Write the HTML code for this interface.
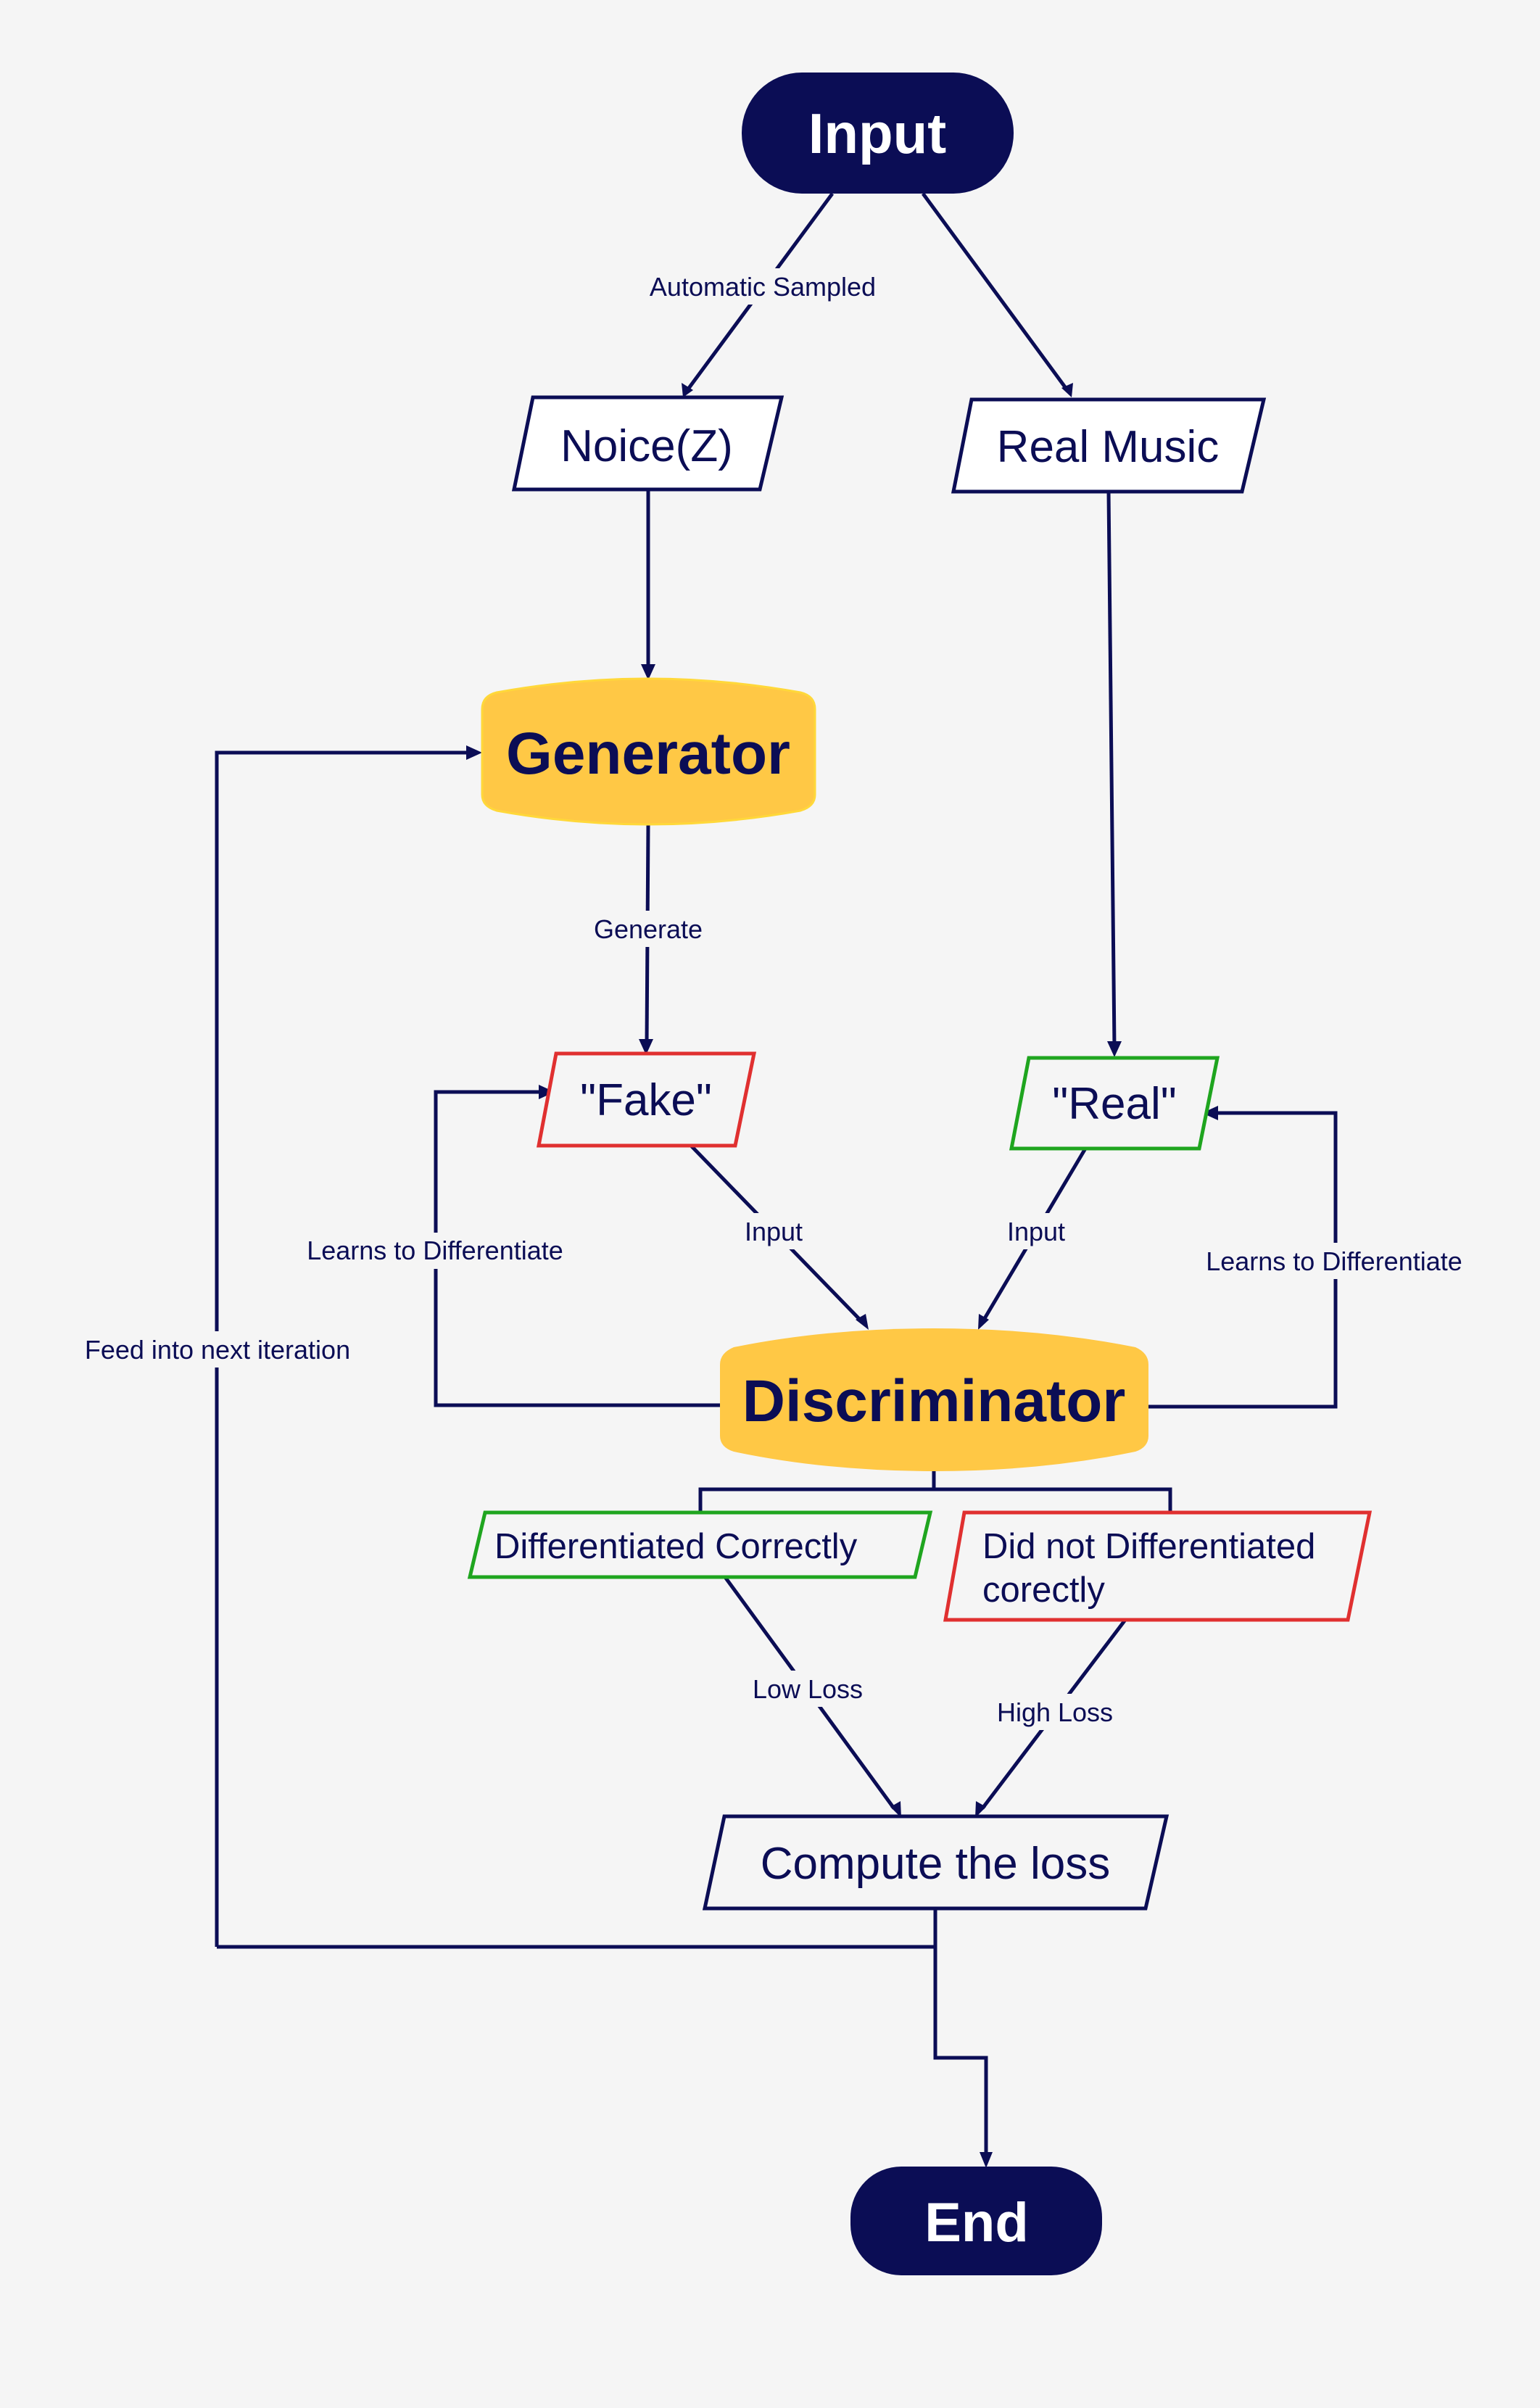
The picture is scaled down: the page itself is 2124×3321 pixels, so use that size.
<!DOCTYPE html>
<html><head><meta charset="utf-8"><style>
html,body{margin:0;padding:0;background:#f5f5f5}
svg{display:block}
text{font-family:"Liberation Sans",sans-serif;fill:#0b0d55}
.l{font-size:36px}
</style></head><body>
<svg width="2124" height="3321" viewBox="0 0 2124 3321" xmlns="http://www.w3.org/2000/svg">
<defs>
<marker id="a" viewBox="0 0 10 10" refX="9" refY="5" markerWidth="6" markerHeight="6" orient="auto-start-reverse" markerUnits="userSpaceOnUse" style="overflow:visible">
</marker>
</defs>
<rect width="2124" height="3321" fill="#f5f5f5"/>
<g stroke="#0b0d55" stroke-width="5" fill="none">
<!-- Input to Noice -->
<line x1="1148" y1="267" x2="948" y2="538"/>
<line x1="1273" y1="267" x2="1472" y2="538"/>
<line x1="894" y1="675" x2="894" y2="922"/>
<polyline points="299,2685 299,1038 652,1038"/>
<line x1="894" y1="1137" x2="892" y2="1440"/>
<line x1="1529" y1="678" x2="1537" y2="1444"/>
<polyline points="995,1938 601,1938 601,1506 750,1506"/>
<polyline points="1584,1940 1842,1940 1842,1535 1672,1535"/>
<line x1="953" y1="1580" x2="1188" y2="1822"/>
<line x1="1497" y1="1584" x2="1357" y2="1820"/>
<polyline points="1288,2029 1288,2054"/>
<polyline points="966,2086 966,2054 1614,2054 1614,2086"/>
<line x1="1000" y1="2175" x2="1233" y2="2494"/>
<line x1="1552" y1="2234" x2="1355" y2="2494"/>
<polyline points="1290,2632 1290,2685 299,2685"/>
<polyline points="1290,2685 1290,2838 1360,2838 1360,2975"/>
</g>
<g fill="#0b0d55">
<polygon points="942,548 940,528 956,538"/>
<polygon points="1478,548 1464,535 1480,528"/>
<polygon points="894,938 884,916 904,916"/>
<polygon points="665,1038 643,1028 643,1048"/>
<polygon points="891,1455 881,1433 901,1433"/>
<polygon points="1537,1458 1527,1436 1547,1436"/>
<polygon points="765,1506 743,1496 743,1516"/>
<polygon points="1658,1535 1680,1525 1680,1545"/>
<polygon points="1198,1834 1180,1820 1194,1812"/>
<polygon points="1349,1834 1350,1812 1364,1820"/>
<polygon points="1243,2507 1228,2492 1242,2484"/>
<polygon points="1345,2507 1346,2484 1360,2492"/>
<polygon points="1360,2990 1351,2968 1369,2968"/>
</g>
<!-- labels bg -->
<g fill="#f5f5f5">
<rect x="880" y="370" width="345" height="50"/>
<rect x="810" y="1256" width="170" height="50"/>
<rect x="1010" y="1673" width="115" height="50"/>
<rect x="1372" y="1673" width="115" height="50"/>
<rect x="405" y="1700" width="390" height="50"/>
<rect x="1645" y="1714" width="390" height="50"/>
<rect x="95" y="1836" width="410" height="50"/>
<rect x="1030" y="2304" width="170" height="50"/>
<rect x="1365" y="2336" width="180" height="50"/>
</g>
<g class="l" text-anchor="middle">
<text x="1052" y="408">Automatic Sampled</text>
<text x="894" y="1294">Generate</text>
<text x="1067" y="1711">Input</text>
<text x="1429" y="1711">Input</text>
<text x="600" y="1737">Learns to Differentiate</text>
<text x="1840" y="1752">Learns to Differentiate</text>
<text x="300" y="1874">Feed into next iteration</text>
<text x="1114" y="2342">Low Loss</text>
<text x="1455" y="2374">High Loss</text>
</g>
<!-- nodes -->
<rect x="1023" y="100" width="375" height="167" rx="83" fill="#0b0d55"/>
<text x="1210" y="211" text-anchor="middle" font-size="78" font-weight="bold" style="fill:#fff">Input</text>
<g fill="#fff" stroke-width="5">
<polygon points="735,548 1078,548 1048,675 709,675" stroke="#0b0d55"/>
<polygon points="1340,551 1743,551 1713,678 1315,678" stroke="#0b0d55"/>
<polygon points="767,1453 1040,1453 1014,1580 743,1580" stroke="#e03030" fill="#f5f5f5"/>
<polygon points="1419,1459 1679,1459 1654,1584 1395,1584" stroke="#1fa51f" fill="#f5f5f5"/>
<polygon points="669,2086 1283,2086 1262,2175 648,2175" stroke="#1fa51f" fill="#f5f5f5"/>
<polygon points="1330,2086 1889,2086 1859,2234 1304,2234" stroke="#e03030" fill="#f5f5f5"/>
<polygon points="999,2505 1609,2505 1580,2632 972,2632" stroke="#0b0d55" fill="#f5f5f5"/>
</g>
<g font-size="62" text-anchor="middle">
<text x="892" y="636">Noice(Z)</text>
<text x="1528" y="637">Real Music</text>
<text x="891" y="1538">"Fake"</text>
<text x="1537" y="1543">"Real"</text>
<text x="1290" y="2591">Compute the loss</text>
</g>
<g font-size="49">
<text x="682" y="2149">Differentiated Correctly</text>
<text x="1355" y="2149">Did not Differentiated</text>
<text x="1355" y="2209">corectly</text>
</g>
<path d="M665,978 Q665,960 685,955 Q790,936 894,936 Q998,936 1104,955 Q1124,960 1124,978 L1124,1096 Q1124,1112 1104,1118 Q998,1137 894,1137 Q790,1137 685,1118 Q665,1112 665,1096 Z" fill="#ffc845" stroke="#ffd83a" stroke-width="3"/>
<text x="894" y="1067" text-anchor="middle" font-size="82" font-weight="bold">Generator</text>
<path d="M993,1882 Q993,1866 1012,1858 Q1140,1832 1288,1832 Q1436,1832 1566,1858 Q1584,1866 1584,1882 L1584,1980 Q1584,1996 1566,2002 Q1436,2029 1288,2029 Q1140,2029 1012,2002 Q993,1996 993,1980 Z" fill="#ffc845"/>
<text x="1288" y="1960" text-anchor="middle" font-size="82" font-weight="bold">Discriminator</text>
<rect x="1173" y="2988" width="347" height="150" rx="70" fill="#0b0d55"/>
<text x="1347" y="3091" text-anchor="middle" font-size="76" font-weight="bold" style="fill:#fff">End</text>
</svg>
</body></html>
